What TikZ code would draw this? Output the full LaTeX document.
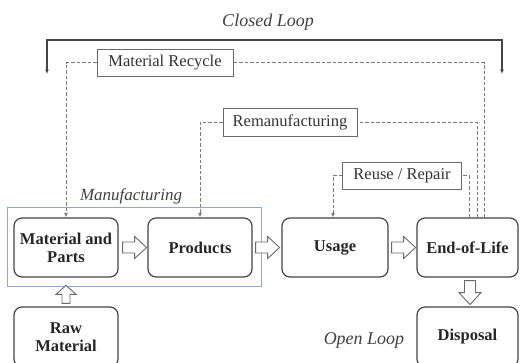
\documentclass[tikz,border=0pt]{standalone}
\usepackage{fontspec}
\setmainfont{Liberation Serif}
\usetikzlibrary{arrows.meta,calc}

\definecolor{boxline}{HTML}{444444}
\definecolor{labline}{HTML}{6A6A6A}
\definecolor{dashcol}{HTML}{7A7A7A}
\definecolor{mfgblue}{HTML}{8EA9C9}

\tikzset{
  stage/.style={draw=boxline, line width=1.2pt, rounded corners=8pt, align=center,
    font=\fontsize{16.5}{18}\selectfont\bfseries, inner sep=0pt, text=black!85},
  loopbox/.style={draw=labline, line width=0.9pt, inner sep=0pt,
    font=\fontsize{16.5}{18}\selectfont, text=black!80},
  dashline/.style={draw=dashcol, line width=0.9pt, dash pattern=on 3.5pt off 2pt},
  smalltip/.style={-{Latex[length=4.5pt,width=4pt]}},
  arrowline/.style={draw=labline, line width=0.9pt, fill=white},
  looplabel/.style={font=\fontsize{18}{20}\selectfont\itshape, text=black!75},
  pics/blockarr/.style={code={
    \draw[arrowline] (0,-5.5) -- ({#1-12},-5.5) -- ({#1-12},-11) -- (#1,0)
      -- ({#1-12},11) -- ({#1-12},5.5) -- (0,5.5) -- cycle;}},
  pics/smallarr/.style={code={
    \draw[arrowline] (0,-4) -- ({#1-9},-4) -- ({#1-9},-10) -- (#1,0)
      -- ({#1-9},10) -- ({#1-9},4) -- (0,4) -- cycle;}}
}

\begin{document}
\begin{tikzpicture}[x=1pt, y=-1pt]
  \useasboundingbox (0,0) rectangle (520,362);
  \clip (0,0) rectangle (520,362);

  % manufacturing frame
  \draw[mfgblue, line width=0.9pt] (7,207) rectangle (261,286);
  \node[looplabel, font=\fontsize{17}{19}\selectfont\itshape] (mfg) at (131,196) {Manufacturing};

  % life-cycle stages
  \node[stage, minimum width=104pt, minimum height=59pt] (mp)    at (66,247.5)  {Material and\\Parts};
  \node[stage, minimum width=104pt, minimum height=59pt] (prod)  at (200,247.5) {Products};
  \node[stage, minimum width=106pt, minimum height=59pt] (usage) at (335,247.5) {Usage};
  \node[stage, minimum width=101pt, minimum height=59pt] (eol)   at (467.5,247.5) {End-of-Life};
  \node[stage, minimum width=101pt, minimum height=60pt] (disp)  at (467.5,337) {Disposal};
  \node[stage, minimum width=104pt, minimum height=60pt] (raw)   at (66,337)    {Raw\\Material};

  % forward flow
  \pic at ($(mp.east)+(4,0)$) {blockarr=24};
  \pic at ($(prod.east)+(3,0)$) {blockarr=24};
  \pic at ($(usage.east)+(3,0)$) {blockarr=24};
  \pic[rotate=-90] at ($(eol.south)+(2.5,3)$) {blockarr=24};
  \pic[rotate=90] at ($(raw.north)+(0,-3)$) {smallarr=18};

  % recovery loop labels
  \node[loopbox, minimum width=136pt, minimum height=27pt] (mr)  at (165,62.5)  {Material Recycle};
  \node[loopbox, minimum width=134pt, minimum height=28pt] (rem) at (290,122)   {Remanufacturing};
  \node[loopbox, minimum width=119pt, minimum height=27pt] (ru)  at (402,175.5) {Reuse / Repair};

  % recovery loops
  \draw[dashline] ([xshift=16.5pt]eol.north) |- (mr.east);
  \draw[dashline, smalltip] (mr.west) -| (mp.north);
  \draw[dashline] ([xshift=9.5pt]eol.north) |- (rem.east);
  \draw[dashline, smalltip] (rem.west) -| (prod.north);
  \draw[dashline] ([xshift=1.5pt]eol.north) |- (ru.east);
  \draw[dashline, smalltip] (ru.west) -| ([xshift=-2pt]usage.north);

  % closed / open loop
  \node[looplabel] (closed) at (268,22) {Closed Loop};
  \coordinate (tl) at (47,40);
  \coordinate (tr) at (502,40);
  \coordinate (cl) at (47,74);
  \coordinate (cr) at (502,74);
  \draw[boxline, line width=1.2pt, smalltip] (tr) -- (tl) -- (cl);
  \draw[boxline, line width=1.2pt, smalltip] (tl) -- (tr) -- (cr);
  \node[looplabel] (open) at (364,340) {Open Loop};
\end{tikzpicture}
\end{document}
